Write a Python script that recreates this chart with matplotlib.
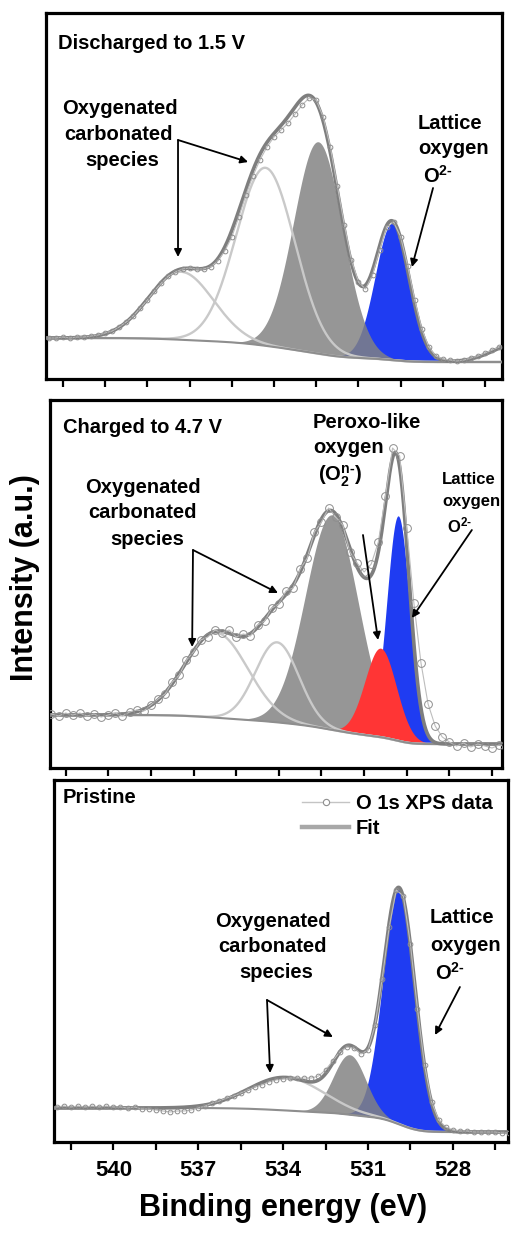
import numpy as np
import matplotlib
matplotlib.use('Agg')
import matplotlib.pyplot as plt
from matplotlib.lines import Line2D

plt.rcParams['font.family'] = ['Liberation Sans', 'DejaVu Sans']
plt.rcParams['font.weight'] = 'bold'
plt.rcParams['mathtext.fontset'] = 'custom'
plt.rcParams['mathtext.rm'] = 'Liberation Sans:bold'
plt.rcParams['mathtext.bf'] = 'Liberation Sans:bold'
plt.rcParams['mathtext.it'] = 'Liberation Sans:bold'

# ---------------- data ----------------
energy_ev = [542.00, 541.75, 541.50, 541.25, 541.00, 540.75, 540.50, 540.25, 540.00,
             539.75, 539.50, 539.25, 539.00, 538.75, 538.50, 538.25, 538.00, 537.75,
             537.50, 537.25, 537.00, 536.75, 536.50, 536.25, 536.00, 535.75, 535.50,
             535.25, 535.00, 534.75, 534.50, 534.25, 534.00, 533.75, 533.50, 533.25,
             533.00, 532.75, 532.50, 532.25, 532.00, 531.75, 531.50, 531.25, 531.00,
             530.75, 530.50, 530.25, 530.00, 529.75, 529.50, 529.25, 529.00, 528.75,
             528.50, 528.25, 528.00, 527.75, 527.50, 527.25, 527.00, 526.75, 526.50,
             526.25, 526.00]

# Discharged to 1.5 V : measured O 1s intensity (a.u.)
p1_intensity = [41, 41, 42, 41, 42, 42, 43, 44, 46, 48, 52, 57, 63, 71, 79, 88, 96, 103,
                107, 110, 111, 110, 110, 112, 118, 128, 142, 162, 184, 203, 219, 232, 242,
                249, 256, 265, 274, 281, 279, 262, 232, 193, 154, 119, 97, 90, 104, 129,
                152, 157, 142, 113, 79, 50, 32, 23, 20, 19, 18, 19, 21, 23, 26, 29, 32]
p1_centers = [537.3, 534.3, 532.43, 529.8]
p1_heights = [68, 178, 212, 137]
p1_fwhm = [2.7, 2.45, 2.05, 1.42]
p1_tail_center, p1_tail_height, p1_tail_fwhm = [525.2], [20], [2.2]
p1_background = (17, 41)

# Charged to 4.7 V
p2_intensity = [54, 52, 55, 53, 55, 52, 54, 51, 53, 55, 52, 56, 58, 57, 63, 69, 74, 86,
                93, 108, 116, 128, 131, 138, 135, 138, 131, 134, 132, 143, 147, 160, 164,
                177, 180, 199, 210, 236, 246, 260, 251, 243, 216, 205, 196, 204, 226, 272,
                320, 312, 240, 165, 105, 64, 42, 31, 26, 22, 25, 21, 24, 22, 20, 23, 21]
p2_centers = [536.2, 534.06, 532.13, 530.42, 529.8]
p2_heights = [85, 80, 215, 89, 225]
p2_fwhm = [2.6, 1.8, 2.2, 1.3, 0.95]
p2_background = (24, 53)

# Pristine
p3_intensity = [35, 36, 35, 36, 35, 36, 35, 36, 35, 35, 34, 35, 33, 33, 32, 31, 30, 31,
                31, 32, 34, 36, 39, 41, 44, 46, 49, 52, 55, 57, 60, 62, 63, 64, 64, 64,
                64, 66, 72, 81, 90, 95, 94, 88, 92, 117, 163, 215, 252, 246, 198, 133, 77,
                40, 22, 15, 12, 11, 11, 10, 10, 10, 10, 9, 9]
p3_centers = [533.9, 531.65, 529.9]
p3_heights = [33, 60, 236]
p3_fwhm = [3.1, 1.35, 1.32]
p3_background = (10, 34)

tick_positions = [541.5, 540.0, 538.5, 537.0, 535.5, 534.0, 532.5, 531.0, 529.5, 528.0, 526.5]
tick_labels = ['', '540', '', '537', '', '534', '', '531', '', '528', '']

# ---------------- styles ----------------
BLUE = '#1f3cf2'
RED = '#ff3535'
GRAY_FILL = '#828282'
OPEN_LINE = '#c9c9c9'
FIT_COLOR = '#7e7e7e'
BASE_COLOR = '#8e8e8e'
SUP_2 = r'O$^{\mathbf{2' + '\u2010' + r'}}$'
PEROXO = r'(O$_{\mathbf{2}}^{\mathbf{n' + '\u2010' + r'}}$)'

W, H = 517, 1233
fig = plt.figure(figsize=(W / 100, H / 100), dpi=100)


def make_ax(left, top, right, bottom, xlim, ymax):
    ax = fig.add_axes([left / W, 1 - bottom / H, (right - left) / W, (bottom - top) / H])
    ax.set_xlim(*xlim)
    ax.set_ylim(0, ymax)
    ax.set_yticks([])
    ax.set_xticks(tick_positions)
    ax.set_xticklabels(tick_labels)
    ax.tick_params(axis='x', direction='out', length=5.8, width=1.6, labelsize=16, pad=7)
    for s in ax.spines.values():
        s.set_linewidth(2.3)
        s.set_color('black')
    return ax


def draw_panel(ax, intensity, centers, heights, fwhm, kinds, background,
               tail=None, ms=3.6):
    x = np.linspace(542.4, 525.6, 1400)
    comps = [h * np.exp(-0.5 * ((x - c) / (w / 2.3548)) ** 2)
             for c, h, w in zip(centers, heights, fwhm)]
    peaks = np.sum(comps, axis=0)
    cum = np.cumsum(peaks[::-1])[::-1]
    lo, hi = background
    base = lo + (hi - lo) * cum / cum[0]
    extra = np.zeros_like(x)
    if tail is not None:
        for c, h, w in zip(*tail):
            extra += h * np.exp(-0.5 * ((x - c) / (w / 2.3548)) ** 2)
    fit = base + peaks + extra

    for comp, kind in zip(comps, kinds):
        if kind == 'blue':
            ax.fill_between(x, base, base + comp, color=BLUE, lw=0, zorder=2)
        elif kind == 'gray':
            ax.fill_between(x, base, base + comp, color=GRAY_FILL, alpha=0.84, lw=0, zorder=3)
        elif kind == 'red':
            ax.fill_between(x, base, base + comp, color=RED, lw=0, zorder=4)
    for comp, kind in zip(comps, kinds):
        if kind == 'open':
            ax.plot(x, base + comp, color=OPEN_LINE, lw=1.7, zorder=5)
    ax.plot(x, base, color=BASE_COLOR, lw=1.5, zorder=5)
    ax.plot(x, fit, color=FIT_COLOR, lw=2.6, zorder=6, solid_capstyle='round')
    ax.plot(energy_ev, intensity, color='#bdbdbd', lw=0.8, marker='o', ms=ms,
            mfc='none', mec='#8e8e8e', mew=0.7, zorder=7)


def block(ax, lines, fxs, fys, size=14.5, ha='center'):
    for t, fx, fy in zip(lines, fxs, fys):
        ax.text(fx, fy, t, transform=ax.transAxes, ha=ha, va='center',
                fontsize=size, fontweight='bold', zorder=10)


def arrow(ax, start, end):
    ax.annotate('', xy=end, xytext=start, xycoords='data', textcoords='data',
                arrowprops=dict(arrowstyle='-|>', color='black', lw=1.3,
                                mutation_scale=11, shrinkA=0, shrinkB=0), zorder=10)


# ---------------- panel 1 : discharged ----------------
ax1 = make_ax(46, 13, 502, 379, (542.1, 525.9), 366)
ax1.tick_params(labelbottom=False)
draw_panel(ax1, p1_intensity, p1_centers, p1_heights, p1_fwhm,
           ['open', 'open', 'gray', 'blue'], p1_background,
           tail=(p1_tail_center, p1_tail_height, p1_tail_fwhm), ms=3.4)
ax1.text(0.026, 0.918, 'Discharged to 1.5 V', transform=ax1.transAxes, ha='left',
         va='center', fontsize=14.5, fontweight='bold')
block(ax1, ['Oxygenated', 'carbonated', 'species'], [0.162, 0.160, 0.167],
      [0.740, 0.667, 0.598])
arrow(ax1, (537.41, 239), (537.41, 122))
arrow(ax1, (537.41, 239), (534.92, 217))
block(ax1, ['Lattice', 'oxygen', SUP_2], [0.816, 0.816, 0.827],
      [0.699, 0.631, 0.555], ha='left')
arrow(ax1, (528.35, 191), (529.1, 112))

# ---------------- panel 2 : charged ----------------
ax2 = make_ax(50, 400, 502, 768, (542.05, 526.15), 368)
ax2.tick_params(labelbottom=False)
draw_panel(ax2, p2_intensity, p2_centers, p2_heights, p2_fwhm,
           ['open', 'open', 'gray', 'red', 'blue'], p2_background, ms=5.6)
ax2.text(0.029, 0.924, 'Charged to 4.7 V', transform=ax2.transAxes, ha='left',
         va='center', fontsize=14.5, fontweight='bold')
block(ax2, ['Oxygenated', 'carbonated', 'species'], [0.206, 0.204, 0.215],
      [0.761, 0.693, 0.620])
arrow(ax2, (537.02, 218), (537.05, 121))
arrow(ax2, (537.02, 218), (534.03, 175))
block(ax2, ['Peroxo-like', 'oxygen', PEROXO], [0.582, 0.582, 0.593],
      [0.940, 0.870, 0.793], ha='left')
arrow(ax2, (531.04, 233), (530.51, 128))
block(ax2, ['Lattice', 'oxygen', SUP_2], [0.867, 0.867, 0.878],
      [0.783, 0.723, 0.660], size=12, ha='left')
arrow(ax2, (527.21, 238), (529.32, 150))

# ---------------- panel 3 : pristine ----------------
ax3 = make_ax(54, 780, 508, 1142, (542.1, 526.05), 362)
draw_panel(ax3, p3_intensity, p3_centers, p3_heights, p3_fwhm,
           ['open', 'gray', 'blue'], p3_background, ms=3.4)
ax3.text(0.02, 0.953, 'Pristine', transform=ax3.transAxes, ha='left',
         va='center', fontsize=14.5, fontweight='bold')
block(ax3, ['Oxygenated', 'carbonated', 'species'], [0.482, 0.482, 0.489],
      [0.608, 0.539, 0.467])
arrow(ax3, (534.57, 142), (534.46, 69))
arrow(ax3, (534.57, 142), (532.24, 105))
block(ax3, ['Lattice', 'oxygen', SUP_2], [0.828, 0.828, 0.839],
      [0.619, 0.544, 0.467], ha='left')
arrow(ax3, (527.75, 155), (528.63, 107))

handles = [Line2D([], [], color='#c4c4c4', lw=1.0, marker='o', ms=4.5, mfc='white',
                  mec='#8e8e8e', mew=0.8),
           Line2D([], [], color='#a8a8a8', lw=3.2)]
ax3.legend(handles, ['O 1s XPS data', 'Fit'], loc='upper right',
           bbox_to_anchor=(0.966, 0.962), frameon=False, fontsize=14.5,
           handlelength=2.3, handletextpad=0.35, labelspacing=0.32,
           borderpad=0, borderaxespad=0)

fig.text(283 / W, 1 - 1208 / H, 'Binding energy (eV)', ha='center', va='center',
         fontsize=22, fontweight='bold')
fig.text(25 / W, 1 - 578 / H, 'Intensity (a.u.)', ha='center', va='center',
         rotation=90, fontsize=22, fontweight='bold')

fig.savefig('out.png', dpi=100)
